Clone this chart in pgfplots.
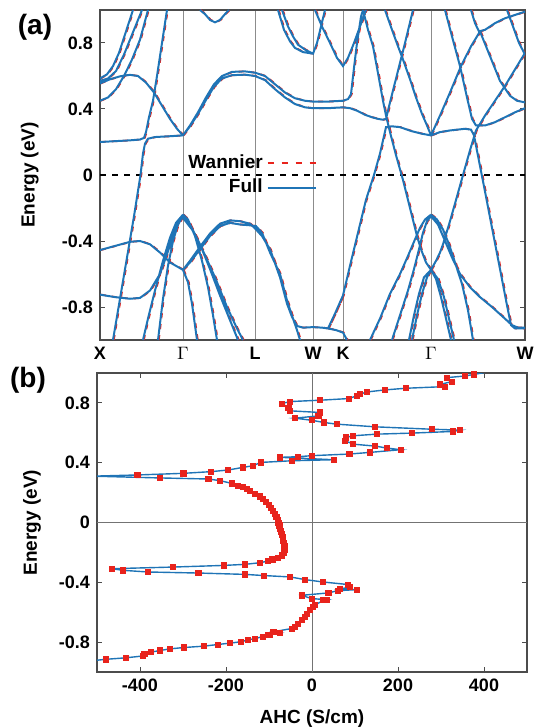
\documentclass[border=0pt]{standalone}
\usepackage{fontspec}
\setmainfont{Liberation Sans}
\usepackage{pgfplots}
\pgfplotsset{compat=1.18}
\usepackage{pgfplotstable}
\definecolor{bandblue}{HTML}{1F74B6}
\definecolor{wanred}{HTML}{E8231C}

% band structure, x = path position, E in eV; nan rows split the bands
\pgfplotstableread{
x E
100 0.20
115 0.205
130 0.21
140 0.215
144 0.225
146 0.26
149 0.35
153 0.45
157 0.6
162 0.8
167 1.0
nan nan
113 -1.0
120 -0.75
127 -0.5
134 -0.25
140.5 0.0
143 0.13
145 0.19
148 0.22
155 0.23
170 0.235
183 0.24
nan nan
100 0.555
110 0.58
120 0.598
130 0.607
138 0.6
146 0.56
154 0.5
162 0.42
170 0.34
177 0.28
183 0.24
nan nan
100 0.585
107 0.61
113 0.66
119 0.74
126 0.87
133 1.0
nan nan
100 0.57
108 0.585
116 0.63
124 0.73
132 0.85
142 1.0
nan nan
100 0.45
108 0.47
116 0.52
124 0.6
132 0.7
140 0.82
148 1.0
nan nan
200 1.0
205 0.975
210 0.94
215 0.925
220 0.94
225 0.975
229 1.0
nan nan
183 0.24
190 0.30
198 0.38
206 0.47
214 0.55
222 0.60
232 0.625
245 0.628
255 0.62
265 0.60
275 0.55
285 0.50
295 0.465
305 0.45
313 0.445
328 0.445
343 0.45
348 0.46
351 0.49
354 0.65
357 0.8
361 0.96
363 1.0
nan nan
183 0.24
190 0.295
198 0.37
206 0.455
214 0.535
222 0.585
232 0.605
245 0.608
255 0.60
265 0.575
275 0.52
285 0.47
295 0.43
305 0.41
313 0.405
328 0.405
343 0.41
350 0.405
357 0.39
365 0.365
372 0.35
378 0.34
383 0.335
386 0.34
390 0.44
395 0.56
400 0.68
405 0.8
409 0.9
413 1.0
nan nan
278 1.0
284 0.88
290 0.81
295 0.77
303 0.745
313 0.735
317 0.8
321 0.9
325 1.0
nan nan
282 1.0
288 0.9
293 0.84
298 0.79
305 0.76
313 0.735
nan nan
315 1.0
322 0.9
330 0.8
337 0.71
343 0.66
348 0.71
354 0.8
360 0.9
366 1.0
nan nan
363 1.0
368 0.88
373 0.78
377 0.65
380 0.55
383 0.45
386 0.36
390 0.26
396 0.12
403 -0.03
410 -0.2
417 -0.37
421 -0.45
426 -0.53
431 -0.575
nan nan
328 -0.93
335 -0.84
343 -0.73
350 -0.55
358 -0.35
366 -0.15
374 0.0
380 0.13
386 0.29
392 0.295
400 0.29
412 0.265
422 0.25
431 0.24
nan nan
385 1.0
392 0.88
398 0.78
403 0.7
410 0.58
416 0.47
422 0.37
427 0.3
431 0.24
nan nan
183 -0.575
190 -0.53
200 -0.45
210 -0.37
220 -0.31
230 -0.29
240 -0.30
250 -0.305
256 -0.31
262 -0.35
270 -0.47
280 -0.6
287 -0.76
293 -0.87
297 -0.94
300 -1.0
nan nan
183 -0.575
190 -0.52
200 -0.435
210 -0.355
220 -0.295
230 -0.275
240 -0.28
250 -0.295
256 -0.33
262 -0.37
270 -0.45
280 -0.62
287 -0.78
292 -0.86
297 -0.915
303 -0.925
313 -0.922
322 -0.925
328 -0.93
335 -0.84
343 -0.73
nan nan
328 -0.93
336 -0.94
343 -0.955
347 -1.0
nan nan
100 -0.455
115 -0.43
130 -0.405
140 -0.40
150 -0.42
160 -0.47
170 -0.53
183 -0.575
nan nan
100 -0.725
115 -0.74
130 -0.75
140 -0.745
150 -0.7
160 -0.6
167 -0.48
173 -0.37
178 -0.29
183 -0.255
nan nan
143 -1.0
148 -0.87
155 -0.7
163 -0.52
170 -0.38
176 -0.29
183 -0.24
nan nan
158 -1.0
163 -0.75
168 -0.55
173 -0.4
178 -0.3
183 -0.25
nan nan
183 -0.575
188 -0.65
192 -0.78
197 -1.0
nan nan
183 -0.24
188 -0.27
195 -0.37
202 -0.52
208 -0.68
213 -0.85
217 -1.0
nan nan
183 -0.25
190 -0.3
200 -0.42
210 -0.57
220 -0.73
230 -0.88
238 -1.0
nan nan
183 -0.26
192 -0.33
203 -0.46
215 -0.62
227 -0.8
237 -0.93
243 -1.0
nan nan
370 -1.0
380 -0.87
390 -0.72
400 -0.6
408 -0.49
415 -0.39
420 -0.32
425 -0.27
431 -0.24
nan nan
392 -1.0
400 -0.85
408 -0.7
414 -0.57
419 -0.45
423 -0.35
427 -0.28
431 -0.25
nan nan
409 -1.0
414 -0.85
419 -0.72
424 -0.62
431 -0.575
nan nan
412 -1.0
417 -0.85
422 -0.72
427 -0.62
431 -0.575
nan nan
431 -0.24
437 -0.27
443 -0.33
449 -0.42
455 -0.53
462 -0.66
468 -0.82
473 -1.0
nan nan
431 -0.25
438 -0.3
445 -0.4
452 -0.5
460 -0.6
470 -0.68
480 -0.74
492 -0.8
503 -0.86
512 -0.91
518 -0.925
525 -0.925
nan nan
431 -0.575
436 -0.63
441 -0.74
446 -0.87
451 -1.0
nan nan
431 -0.575
438 -0.63
444 -0.74
449 -0.87
454 -1.0
nan nan
431 -0.575
436 -0.52
440 -0.47
443 -0.42
450 -0.28
457 -0.13
463 0.0
470 0.15
476 0.27
485 0.36
495 0.45
505 0.54
515 0.64
525 0.74
nan nan
431 0.24
440 0.26
450 0.27
465 0.28
471 0.275
474 0.24
478 0.116
485 -0.1
492 -0.32
500 -0.57
507 -0.79
511 -0.91
515 -0.93
525 -0.93
nan nan
445 1.0
452 0.84
460 0.66
467 0.47
472 0.34
476 0.3
485 0.3
495 0.32
505 0.35
515 0.38
525 0.405
nan nan
471 1.0
475 0.92
479 0.87
485 0.88
495 0.92
505 0.95
515 0.97
525 0.99
nan nan
431 0.24
440 0.36
450 0.5
461 0.66
471 0.78
480 0.87
nan nan
480 0.87
490 0.72
500 0.57
510 0.48
517 0.45
525 0.44
nan nan
507 1.0
513 0.9
519 0.8
525 0.73
}\bands

% anomalous Hall conductivity (S/cm) against energy (eV)
\pgfplotstableread{
s E
-510 -0.924
-479 -0.915
-433 -0.905
-394 -0.893
-390 -0.878
-375 -0.867
-353 -0.856
-330 -0.845
-297 -0.836
-251 -0.827
-219 -0.816
-191 -0.807
-166 -0.798
-150 -0.787
-133 -0.776
-115 -0.764
-102 -0.753
-98 -0.75
-74 -0.738
-90 -0.731
-47 -0.709
-40 -0.698
-32 -0.676
-24 -0.653
-16 -0.631
-12 -0.609
-5 -0.587
3 -0.564
7 -0.553
26 -0.52
34 -0.516
-1 -0.509
-24 -0.487
38 -0.471
60 -0.456
104 -0.449
65 -0.445
88 -0.431
84 -0.415
26 -0.398
-16 -0.382
-51 -0.364
-111 -0.355
-156 -0.347
-264 -0.338
-381 -0.331
-439 -0.32
-466 -0.309
-323 -0.298
-205 -0.287
-156 -0.28
-121 -0.269
-102 -0.258
-92 -0.247
-80 -0.235
-70 -0.22
-65 -0.2
-63 -0.18
-64 -0.16
-66 -0.14
-67 -0.12
-68 -0.10
-70 -0.08
-72 -0.06
-74 -0.04
-76 -0.02
-78 0.0
-80 0.02
-83 0.04
-87 0.06
-91 0.08
-96 0.10
-101 0.12
-107 0.14
-114 0.16
-122 0.175
-133 0.19
-145 0.21
-152 0.225
-160 0.236
-172 0.246
-187 0.262
-214 0.28
-241 0.291
-353 0.298
-510 0.31
-406 0.318
-299 0.329
-236 0.34
-195 0.351
-160 0.369
-137 0.38
-119 0.402
-47 0.413
50 0.42
-74 0.436
-32 0.44
-1 0.447
87 0.458
135 0.469
206 0.487
174 0.498
147 0.511
96 0.524
77 0.547
79 0.569
95 0.58
150 0.591
232 0.598
327 0.609
344 0.618
278 0.624
147 0.64
57 0.658
28 0.669
-1 0.684
-40 0.698
15 0.713
19 0.736
-51 0.747
-55 0.769
-70 0.796
-51 0.809
19 0.818
85 0.829
104 0.847
112 0.858
127 0.873
170 0.887
218 0.898
309 0.909
298 0.924
325 0.942
313 0.969
356 0.98
377 0.991
400 1.002
}\ahc

\pgfplotsset{
  panel/.style={
    scale only axis, anchor=south west,
    ymin=-1, ymax=1,
    ytick={-0.8,-0.4,0,0.4,0.8}, yticklabels={-0.8,-0.4,0,0.4,0.8},
    tick align=inside, major tick length=2.5pt,
    tick style={black!70, line width=0.5pt},
    axis line style={black!70, line width=0.6pt},
    ticklabel style={font=\fontsize{9}{10}\selectfont\bfseries},
    label style={font=\fontsize{9.5}{11}\selectfont\bfseries},
  },
}

\begin{document}
\begin{tikzpicture}
\useasboundingbox (0,0) rectangle (267.5pt,-363.5pt);

\begin{axis}[panel,
  at={(50pt,-170pt)}, width=212.5pt, height=165pt,
  xmin=100, xmax=525,
  xtick={100,183,255,313,343,431,525},
  xticklabels={X,$\Gamma$,L,W,K,$\Gamma$,W},
  major x tick style={draw=none},
  xmajorgrids, grid style={black!45, line width=0.5pt},
  unbounded coords=jump,
  ylabel={Energy (eV)},
  ylabel style={at={(axis description cs:-0.165,0.5)}, anchor=center},
  legend plot pos=right, legend cell align=right,
  legend image code/.code={\draw[#1] (0pt,0pt) -- (24pt,0pt);},
  legend style={draw=none, fill=none, at={(0.525,0.588)}, anchor=north east,
    font=\fontsize{9.5}{11}\selectfont\bfseries, row sep=0pt},
]
\addplot[black, line width=0.6pt, dash pattern=on 3pt off 3pt, forget plot]
  coordinates {(100,0) (525,0)};
\addplot[wanred, line width=0.9pt, dash pattern=on 2.5pt off 3pt, xshift=0.4pt, forget plot]
  table[x=x, y=E] {\bands};
\addplot[bandblue, line width=1pt, forget plot] table[x=x, y=E] {\bands};
\addlegendimage{wanred, line width=1pt, dash pattern=on 3pt off 4pt}
\addlegendentry{Wannier}
\addlegendimage{bandblue, line width=1pt}
\addlegendentry{Full}
\end{axis}

\begin{axis}[panel,
  at={(48.5pt,-336pt)}, width=215pt, height=149.5pt,
  xmin=-500, xmax=500,
  xtick={-400,-200,0,200,400}, xticklabels={-400,-200,0,200,400},
  xlabel={AHC (S/cm)},
  xlabel style={at={(axis description cs:0.5,-0.155)}, anchor=center},
  ylabel={Energy (eV)},
  ylabel style={at={(axis description cs:-0.151,0.5)}, anchor=center},
]
\addplot[black!55, line width=0.5pt] coordinates {(-500,0) (500,0)};
\addplot[black!55, line width=0.5pt] coordinates {(0,-1) (0,1)};
\addplot[bandblue, line width=0.7pt] table[x=s, y=E] {\ahc};
\addplot[only marks, mark=square*, mark size=1.3pt, wanred,
  restrict x to domain=-495:500, restrict y to domain=-1:0.995]
  table[x=s, y=E] {\ahc};
\end{axis}

\node[font=\fontsize{14}{16}\selectfont\bfseries] at (17.5pt,-13.5pt) {(a)};
\node[font=\fontsize{14}{16}\selectfont\bfseries] at (14pt,-190pt) {(b)};
\end{tikzpicture}
\end{document}
